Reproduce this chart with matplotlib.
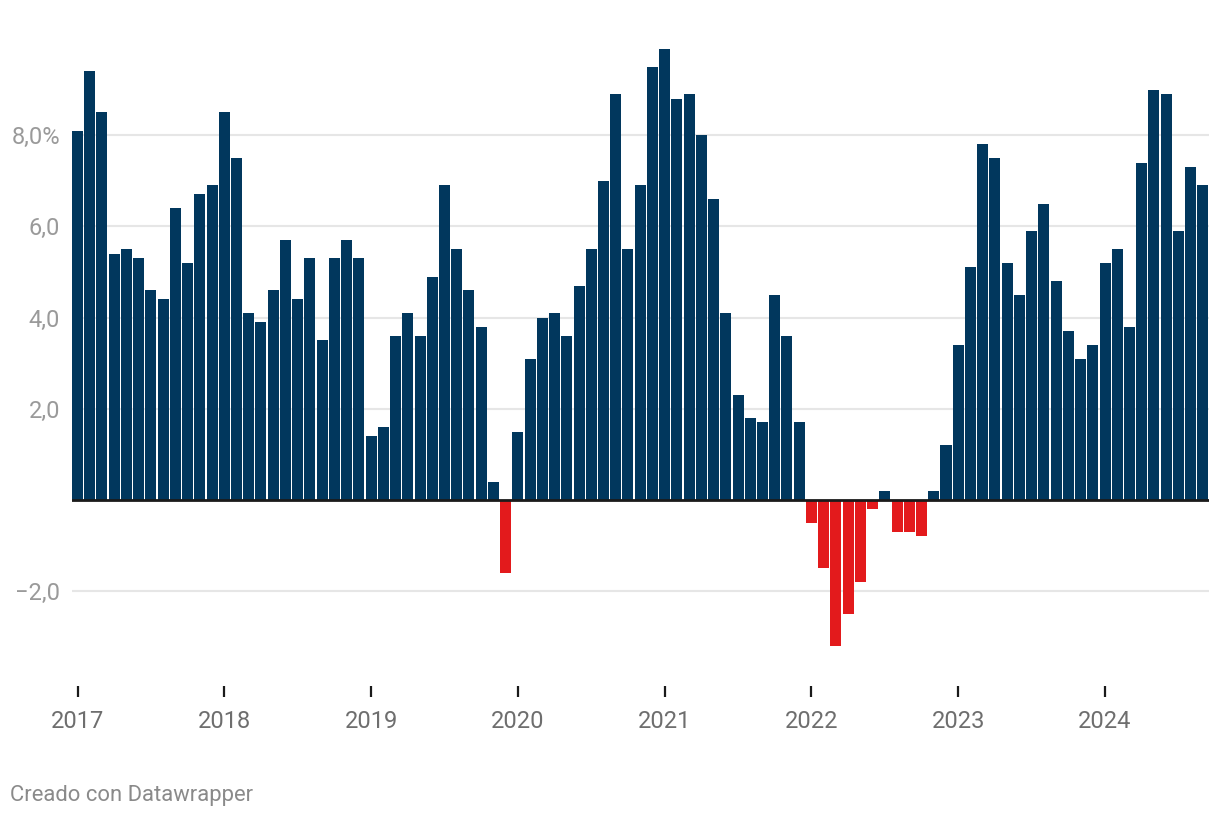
import matplotlib.pyplot as plt
import numpy as np

# monthly values, Jan 2017 - Sep 2024 (%)
v2017 = [8.1, 9.4, 8.5, 5.4, 5.5, 5.3, 4.6, 4.4, 6.4, 5.2, 6.7, 6.9]
v2018 = [8.5, 7.5, 4.1, 3.9, 4.6, 5.7, 4.4, 5.3, 3.5, 5.3, 5.7, 5.3]
v2019 = [1.4, 1.6, 3.6, 4.1, 3.6, 4.9, 6.9, 5.5, 4.6, 3.8, 0.4, -1.6]
v2020 = [1.5, 3.1, 4.0, 4.1, 3.6, 4.7, 5.5, 7.0, 8.9, 5.5, 6.9, 9.5]
v2021 = [9.9, 8.8, 8.9, 8.0, 6.6, 4.1, 2.3, 1.8, 1.7, 4.5, 3.6, 1.7]
v2022 = [-0.5, -1.5, -3.2, -2.5, -1.8, -0.2, 0.2, -0.7, -0.7, -0.8, 0.2, 1.2]
v2023 = [3.4, 5.1, 7.8, 7.5, 5.2, 4.5, 5.9, 6.5, 4.8, 3.7, 3.1, 3.4]
v2024 = [5.2, 5.5, 3.8, 7.4, 9.0, 8.9, 5.9, 7.3, 6.9]

values = np.array(v2017 + v2018 + v2019 + v2020 + v2021 + v2022 + v2023 + v2024)
years = ['2017', '2018', '2019', '2020', '2021', '2022', '2023', '2024']
yticks = [-2, 2, 4, 6, 8]
ytick_labels = ['\u22122,0', '2,0', '4,0', '6,0', '8,0%']

plt.rcParams['font.family'] = ['Roboto', 'DejaVu Sans']

fig = plt.figure(figsize=(12.2, 8.18), dpi=100)
ax = fig.add_axes([72 / 1220, 1 - 686 / 818, 1137 / 1220, 665 / 818])

x = np.arange(len(values))
colors = np.where(values < 0, '#e31a1c', '#01375d')
ax.bar(x, values, width=0.9, color=colors, zorder=2)
ax.axhline(0, color='#1a1a1a', linewidth=2, zorder=3)

ax.set_xlim(-0.45, len(values) - 0.5)
ax.set_ylim(-(686 - 500) / 45.6, (500 - 21) / 45.6)

for t in yticks:
    ax.axhline(t, color='#e6e6e6', linewidth=1.5, zorder=1)
ax.set_yticks(yticks)
ax.set_yticklabels(ytick_labels)
ax.tick_params(axis='y', length=0, pad=8.5, labelsize=17, labelcolor='#9a9a9a')

ax.set_xticks(np.arange(len(years)) * 12)
ax.set_xticklabels(years)
ax.tick_params(axis='x', length=8, width=1.6, color='#1a1a1a', pad=9,
               labelsize=17, labelcolor='#6e6e6e')

for s in ax.spines.values():
    s.set_visible(False)

fig.text(10 / 1220, 1 - 795 / 818, 'Creado con Datawrapper', fontsize=15.8,
         color='#8a8a8a', va='center', ha='left')

fig.savefig('out.png', dpi=100)
